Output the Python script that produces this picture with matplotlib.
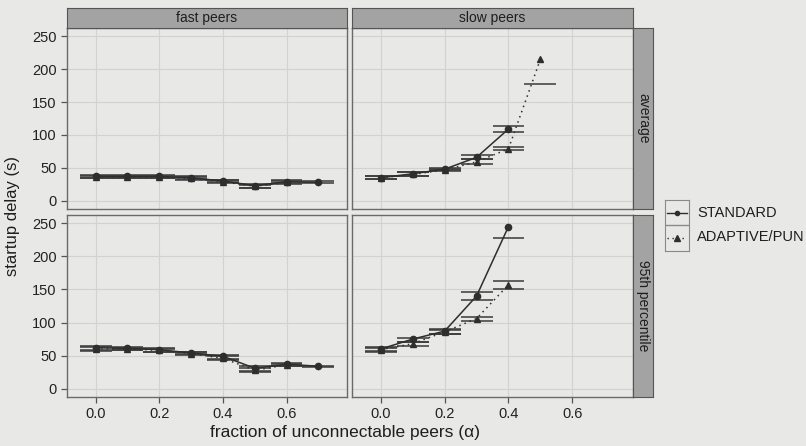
import matplotlib
matplotlib.use("Agg")
import matplotlib.pyplot as plt
from matplotlib.lines import Line2D

plt.rcParams['font.family'] = ['Liberation Sans', 'DejaVu Sans']

# fraction of unconnectable peers
alpha = [0.0, 0.1, 0.2, 0.3, 0.4, 0.5, 0.6, 0.7]

# fast peers, average startup delay (s)
fa_std = [37, 37, 37, 35, 30, 23, 29, 28]
fa_std_lo = [35, 35, 35, 33, 28, 20, 27, 27]
fa_std_hi = [39, 39, 39, 37, 32, 25, 31, 30]
fa_ada = [36, 36, 36, 34, 29, 22, 28]
fa_ada_lo = [34, 34, 34, 32, 27, 20, 26]
fa_ada_hi = [38, 38, 38, 36, 31, 24, 30]

# slow peers, average
sa_std = [35, 41, 48, 66, 109]
sa_std_lo = [33, 38, 46, 63, 104]
sa_std_hi = [37, 43, 50, 69, 113]
sa_ada = [35, 40, 47, 59, 79, 215]
sa_ada_lo = [33, 38, 45, 56, 77, 178]
sa_ada_hi = [37, 43, 49, 63, 81, 270]

# fast peers, 95th percentile
f9_std = [62, 61, 59, 54, 49, 31, 37, 34]
f9_std_lo = [58, 58, 56, 52, 45, 27, 35, 33]
f9_std_hi = [65, 63, 61, 56, 51, 34, 39, 35]
f9_ada = [60, 60, 58, 53, 46, 28, 36]
f9_ada_lo = [57, 58, 56, 51, 43, 25, 34]
f9_ada_hi = [63, 62, 60, 55, 49, 31, 38]

# slow peers, 95th percentile
s9_std = [60, 75, 87, 140, 245]
s9_std_lo = [57, 71, 83, 134, 228]
s9_std_hi = [63, 77, 90, 146, 264]
s9_ada = [59, 68, 86, 106, 157]
s9_ada_lo = [56, 65, 83, 103, 151]
s9_ada_hi = [62, 71, 89, 109, 163]

col_labels = ['fast peers', 'slow peers']
row_labels = ['average', '95th percentile']
series_labels = ['STANDARD', 'ADAPTIVE/PUN']

BG = '#e8e8e6'
INK = '#2e2e2e'
STRIP = '#a3a3a3'
W, H = 806, 446

fig = plt.figure(figsize=(W / 100, H / 100), dpi=100, facecolor=BG)


def box(x0, y0, x1, y1):
    return fig.add_axes([x0 / W, 1 - y1 / H, (x1 - x0) / W, (y1 - y0) / H])


def draw_series(ax, y, lo, hi, marker, ls):
    x = alpha[:len(y)]
    left = [a - 0.05 for a in x]
    right = [a + 0.05 for a in x]
    ax.hlines(lo, left, right, color='#3a3a3a', lw=1.1)
    ax.hlines(hi, left, right, color='#3a3a3a', lw=1.1)
    ax.plot(x, y, color=INK, ls=ls, lw=1.1, marker=marker, ms=4.5,
            mfc=INK, mec=INK)


panel_x = [(67, 347), (352, 633)]
panel_y = [(28, 209), (215, 397)]
data = [
    [(fa_std, fa_std_lo, fa_std_hi, fa_ada, fa_ada_lo, fa_ada_hi),
     (sa_std, sa_std_lo, sa_std_hi, sa_ada, sa_ada_lo, sa_ada_hi)],
    [(f9_std, f9_std_lo, f9_std_hi, f9_ada, f9_ada_lo, f9_ada_hi),
     (s9_std, s9_std_lo, s9_std_hi, s9_ada, s9_ada_lo, s9_ada_hi)],
]

for r in range(2):
    for c in range(2):
        ax = box(panel_x[c][0], panel_y[r][0], panel_x[c][1], panel_y[r][1])
        ax.set_facecolor(BG)
        ax.set_xlim(-0.09, 0.79)
        ax.set_ylim(-12.5, 262.5)
        ax.set_xticks([0.0, 0.2, 0.4, 0.6])
        ax.set_yticks([0, 50, 100, 150, 200, 250])
        ax.grid(True, color='#d2d2d0', lw=0.8)
        ax.set_axisbelow(True)
        for s in ax.spines.values():
            s.set_color('#6a6a6a')
            s.set_linewidth(1.0)
        ax.tick_params(colors='#555555', labelcolor='#222222', labelsize=10.5,
                       length=4, width=0.9)
        if c == 0:
            ax.set_yticklabels(['0', '50', '100', '150', '200', '250'])
        else:
            ax.tick_params(axis='y', left=False, labelleft=False)
        if r == 1:
            ax.set_xticklabels(['0.0', '0.2', '0.4', '0.6'])
        else:
            ax.tick_params(axis='x', bottom=False, labelbottom=False)

        std, std_lo, std_hi, ada, ada_lo, ada_hi = data[r][c]
        draw_series(ax, ada, ada_lo, ada_hi, '^', (0, (1, 2.6)))
        draw_series(ax, std, std_lo, std_hi, 'o', '-')

# facet strips
for c in range(2):
    st = box(panel_x[c][0], 8, panel_x[c][1], 28)
    st.set_facecolor(STRIP)
    st.set_xticks([])
    st.set_yticks([])
    for s in st.spines.values():
        s.set_color('#555555')
    st.text(0.5, 0.5, col_labels[c], ha='center', va='center', fontsize=10,
            color='#1e1e1e', transform=st.transAxes)

for r in range(2):
    st = box(633, panel_y[r][0], 653, panel_y[r][1])
    st.set_facecolor(STRIP)
    st.set_xticks([])
    st.set_yticks([])
    for s in st.spines.values():
        s.set_color('#555555')
    st.text(0.5, 0.5, row_labels[r], ha='center', va='center', fontsize=10,
            rotation=-90, color='#1e1e1e', transform=st.transAxes)

fig.text(345 / W, 1 - 432 / H, 'fraction of unconnectable peers (\u03b1)',
         ha='center', va='center', fontsize=12.5, color='#1e1e1e')
fig.text(13 / W, 1 - 216 / H, 'startup delay (s)', ha='center', va='center',
         rotation=90, fontsize=12, color='#1e1e1e')

# legend keys
lg = box(665, 200, 689, 251)
lg.set_facecolor(BG)
lg.set_xlim(0, 1)
lg.set_ylim(0, 2)
lg.set_xticks([])
lg.set_yticks([])
for s in lg.spines.values():
    s.set_color('#8a8a8a')
lg.axhline(1, color='#8a8a8a', lw=1.0)
lg.add_line(Line2D([0.1, 0.9], [1.5, 1.5], color=INK, lw=1.0))
lg.plot([0.5], [1.5], 'o', color=INK, ms=3)
lg.add_line(Line2D([0.1, 0.9], [0.5, 0.5], color=INK, lw=1.0, ls=(0, (1, 2.6))))
lg.plot([0.5], [0.5], '^', color=INK, ms=4)
fig.text(697 / W, 1 - 213 / H, series_labels[0], ha='left', va='center',
         fontsize=10.5, color='#1e1e1e')
fig.text(697 / W, 1 - 237 / H, series_labels[1], ha='left', va='center',
         fontsize=10.5, color='#1e1e1e')

fig.savefig('out.png', dpi=100, facecolor=BG)
